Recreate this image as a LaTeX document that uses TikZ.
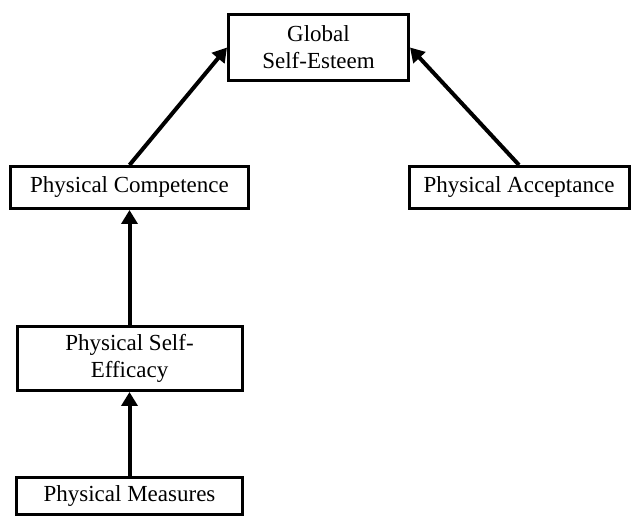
\documentclass[tikz,border=0pt]{standalone}
\usepackage{fontspec}
\setmainfont{Liberation Serif}
\usetikzlibrary{positioning}
\usetikzlibrary{arrows.meta}

\begin{document}
\begin{tikzpicture}[
        box/.style={draw, line width=1.5pt, align=center, inner sep=2pt,
            font=\fontsize{11.5}{13.5}\selectfont},
        arr/.style={line width=2pt, -{Triangle[length=7pt,width=8pt]}},
        on grid
    ]
        \useasboundingbox (0,0) rectangle (316pt,-258.5pt);
        % Define nodes
        \node[box, minimum width=90pt, minimum height=33pt] (G) at (159.25pt,-23.75pt) {Global\\Self-Esteem};
        \node[box, minimum width=119pt, minimum height=21pt, below left=70pt and 94.5pt of G] (PC) {Physical Competence};
        \node[box, minimum width=110pt, minimum height=21pt, right=194.75pt of PC] (PA) {Physical Acceptance};
        \node[box, minimum width=112.5pt, minimum height=32pt, below=85.5pt of PC] (PSE) {Physical Self-\\Efficacy};
        \node[box, minimum width=113pt, minimum height=18.5pt, below=68.75pt of PSE] (PM) {Physical Measures};
        % Connect nodes
        \draw[arr] (PC.north) -- (G.west);
        \draw[arr] (PA.north) -- (G.east);
        \draw[arr] (PSE.north) -- (PC.south);
        \draw[arr] (PM.north) -- (PSE.south);
    \end{tikzpicture}
\end{document}
